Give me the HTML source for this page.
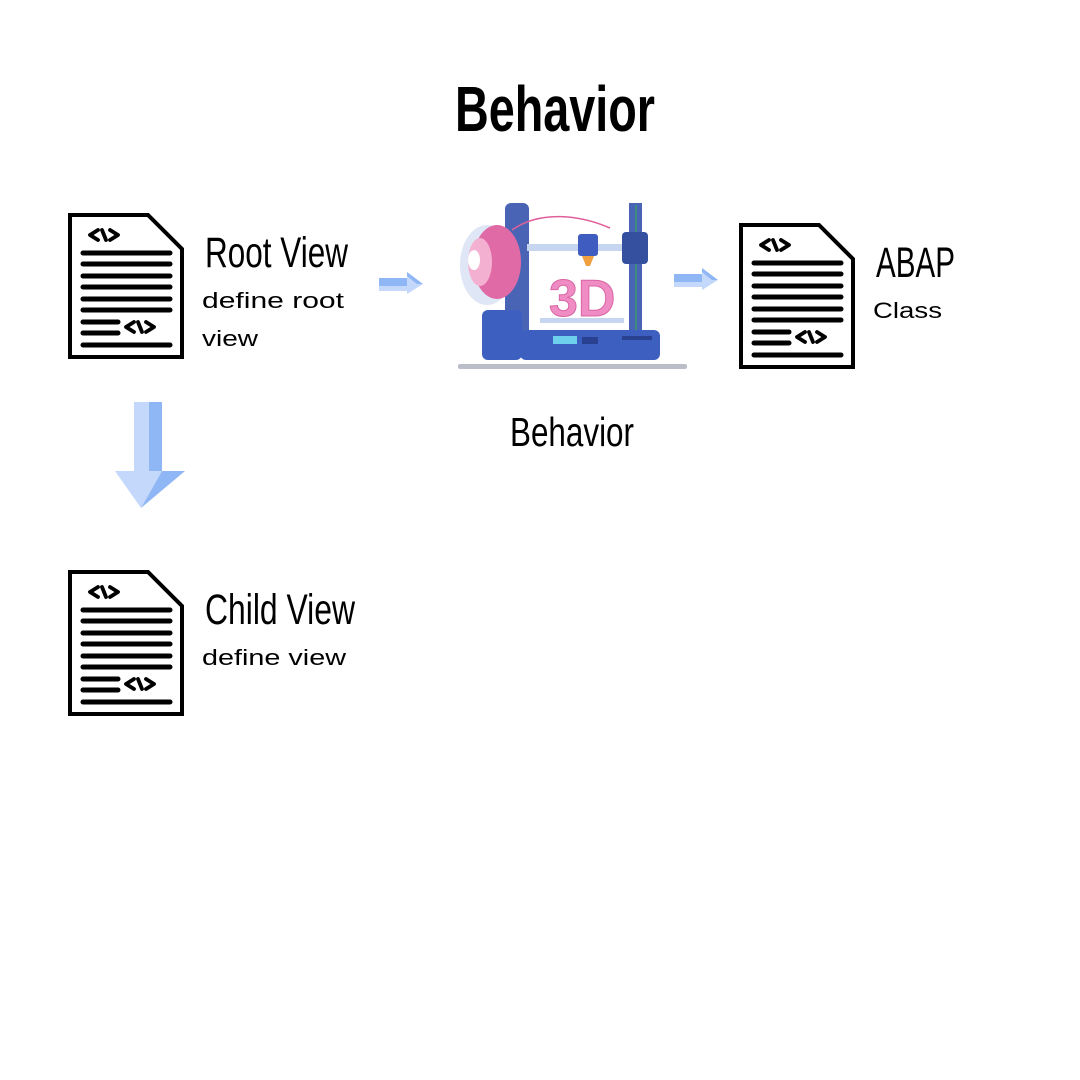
<!DOCTYPE html>
<html><head><meta charset="utf-8"><style>
html,body{margin:0;padding:0;background:#fff;width:1080px;height:1080px;overflow:hidden}
svg{display:block}
.cond{font-family:"Liberation Sans Narrow","Liberation Sans",sans-serif}
.body{font-family:"Liberation Sans",sans-serif}
</style></head><body>
<svg width="1080" height="1080" viewBox="0 0 1080 1080" xmlns="http://www.w3.org/2000/svg">
<defs>
<g id="doc">
<path d="M2,2 H80 L114,36 V144 H2 Z" fill="#fff" stroke="#000" stroke-width="4" stroke-linejoin="miter"/>
<g stroke="#000" stroke-width="5" stroke-linecap="round">
<line x1="15" y1="40" x2="102" y2="40"/>
<line x1="15" y1="51" x2="102" y2="51"/>
<line x1="15" y1="63" x2="102" y2="63"/>
<line x1="15" y1="74" x2="102" y2="74"/>
<line x1="15" y1="86" x2="102" y2="86"/>
<line x1="15" y1="97" x2="102" y2="97"/>
<line x1="15" y1="109" x2="50" y2="109"/>
<line x1="15" y1="120" x2="50" y2="120"/>
<line x1="15" y1="132" x2="102" y2="132"/>
</g>
<g fill="none" stroke="#000" stroke-width="3.8" stroke-linecap="round" stroke-linejoin="round">
<polyline points="30,17 22,22 30,27"/><line x1="34" y1="17" x2="38" y2="27"/><polyline points="42,17 50,22 42,27"/>
<polyline points="66,109 58,114 66,119"/><line x1="70" y1="109" x2="74" y2="119"/><polyline points="78,109 86,114 78,119"/>
</g>
</g>
<g id="rarrow">
<rect x="0" y="6" width="28" height="8" fill="#8fb6f5"/>
<rect x="0" y="14" width="28" height="5" fill="#c3d8fb"/>
<polygon points="28,0 44,12 28,22" fill="#c3d8fb"/>
<polygon points="28,0 44,12 38,12 28,4" fill="#8fb6f5"/>
</g>
</defs>

<text x="455" y="131" class="cond" font-weight="bold" font-size="64" textLength="200" lengthAdjust="spacingAndGlyphs">Behavior</text>

<use href="#doc" x="68" y="213"/>
<text x="205" y="267" class="cond" font-size="43" textLength="143" lengthAdjust="spacingAndGlyphs">Root View</text>
<text x="202" y="308" class="body" font-size="22" textLength="142" lengthAdjust="spacingAndGlyphs">define root</text>
<text x="202" y="346" class="body" font-size="22" textLength="56" lengthAdjust="spacingAndGlyphs">view</text>

<use href="#rarrow" x="379" y="272"/>
<use href="#rarrow" x="674" y="268"/>

<rect x="134" y="402" width="15" height="70" fill="#c3d8fb"/>
<rect x="149" y="402" width="13" height="70" fill="#8fb6f5"/>
<polygon points="115,471 162,471 141,508" fill="#c3d8fb"/>
<polygon points="162,471 185,471 141,508" fill="#8fb6f5"/>

<g>
<rect x="458" y="364" width="229" height="5" rx="2" fill="#b9bec9"/>
<rect x="505" y="203" width="24" height="145" rx="6" fill="#4a64b5"/>
<rect x="629" y="203" width="13" height="145" fill="#4a64b5"/>
<line x1="636" y1="205" x2="636" y2="340" stroke="#3a9a6a" stroke-width="1.5"/>
<rect x="527" y="244" width="110" height="7" fill="#c7d6f0"/>
<rect x="622" y="232" width="26" height="32" rx="4" fill="#3650a0"/>
<rect x="578" y="234" width="20" height="22" rx="3" fill="#3f5cc0"/>
<polygon points="582,256 594,256 590,266 586,266" fill="#f0a040"/>
<path d="M512,230 C540,210 580,215 610,228" fill="none" stroke="#e0609a" stroke-width="1.5"/>
<ellipse cx="487" cy="265" rx="27" ry="40" fill="#dfe6f5"/>
<ellipse cx="497" cy="262" rx="24" ry="37" fill="#e06aa6"/>
<ellipse cx="480" cy="262" rx="12" ry="24" fill="#f4b0d0"/>
<ellipse cx="474" cy="260" rx="6" ry="10" fill="#fff"/>
<text x="549" y="316" font-family="Liberation Sans" font-weight="bold" font-size="52" fill="#f08cc4" stroke="#d865a5" stroke-width="1">3D</text>
<rect x="540" y="318" width="84" height="5" fill="#c7d6f0"/>
<rect x="482" y="310" width="40" height="50" rx="6" fill="#3d5fc0"/>
<rect x="520" y="330" width="140" height="30" rx="6" fill="#3d5fc0"/>
<rect x="553" y="336" width="24" height="8" fill="#6fd0ee"/>
<rect x="582" y="337" width="16" height="7" fill="#2a4090"/>
<rect x="622" y="336" width="30" height="4" fill="#2a4090"/>
</g>
<text x="510" y="446" class="cond" font-size="41" textLength="124" lengthAdjust="spacingAndGlyphs">Behavior</text>

<use href="#doc" x="739" y="223"/>
<text x="876" y="277" class="cond" font-size="43" textLength="79" lengthAdjust="spacingAndGlyphs">ABAP</text>
<text x="873" y="318" class="body" font-size="22" textLength="69" lengthAdjust="spacingAndGlyphs">Class</text>

<use href="#doc" x="68" y="570"/>
<text x="205" y="624" class="cond" font-size="43" textLength="150" lengthAdjust="spacingAndGlyphs">Child View</text>
<text x="202" y="665" class="body" font-size="22" textLength="144" lengthAdjust="spacingAndGlyphs">define view</text>
</svg>
</body></html>
